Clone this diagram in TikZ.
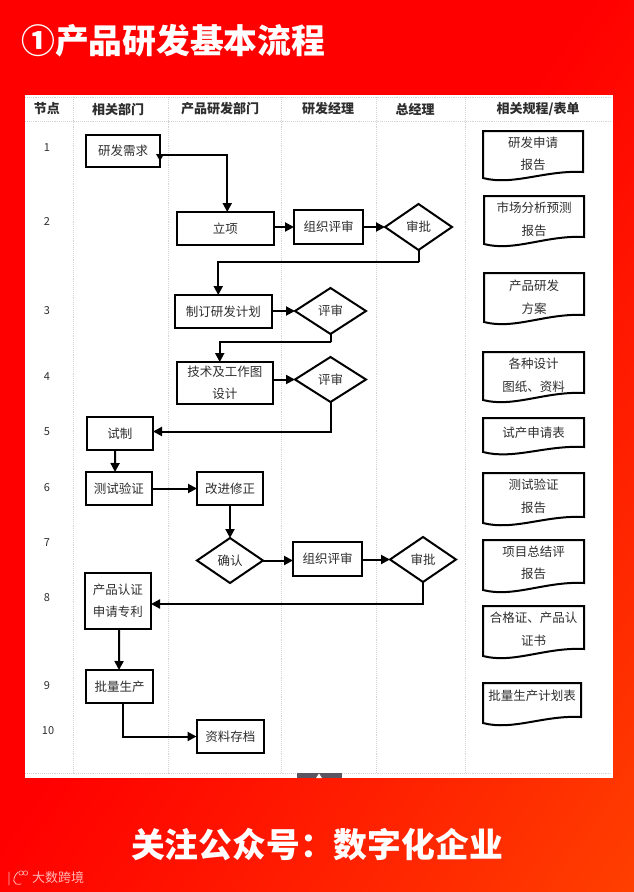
\documentclass[tikz,border=0pt]{standalone}
\usepackage{fontspec}
\setmainfont{Noto Sans CJK SC}
\usetikzlibrary{arrows.meta,calc,shapes.geometric}
\definecolor{inktext}{HTML}{2E2E2E}
\definecolor{gridgray}{HTML}{D6D2D8}
\definecolor{tabgray}{HTML}{5A5560}
\definecolor{bgstart}{HTML}{FF0000}
\definecolor{bgmid}{HTML}{FF2A00}
\definecolor{bgend}{HTML}{FF5500}
\pgfdeclareverticalshading{bggrad}{100bp}{color(0bp)=(bgstart);color(48bp)=(bgstart);color(73bp)=(bgmid);color(97bp)=(bgend);color(100bp)=(bgend)}
\tikzset{
  x=1pt,y=-1pt,
  flowbox/.style={draw=black,line width=2pt,fill=white,rectangle,inner sep=0pt,outer sep=0pt,align=center,text=inktext,font=\fontsize{12.5}{22}\selectfont},
  flowdia/.style={draw=black,line width=2pt,fill=white,diamond,shape aspect=1.45,inner sep=0pt,outer sep=0pt,text=inktext,font=\fontsize{12.5}{15}\selectfont},
  flow/.style={draw=black,line width=2pt,-{Triangle[length=9pt,width=9pt]}},
  gridline/.style={draw=gridgray,line width=0.9pt,densely dotted},
  headtext/.style={font=\fontsize{13}{15}\selectfont\bfseries,text=inktext,inner sep=0pt},
  numtext/.style={font=\fontsize{11}{13}\selectfont,text=inktext,inner sep=0pt},
  doctext/.style={font=\fontsize{12.5}{22.5}\selectfont,text=inktext,align=center,inner sep=0pt},
  bigtext/.style={font=\fontsize{33.8}{36}\selectfont\bfseries,text=white,inner sep=0pt},
}
% name, x1, y1, x2, y2, text
\newcommand{\procnode}[6]{\node[flowbox,minimum width={(#4-#2)*1pt},minimum height={(#5-#3)*1pt}] (#1) at ({(#2+#4)/2},{(#3+#5)/2}) {#6};}
\newcommand{\decnode}[6]{\node[flowdia,minimum width={(#4-#2)*1pt},minimum height={(#5-#3)*1pt}] (#1) at ({(#2+#4)/2},{(#3+#5)/2}) {#6};}
% name, x1, ytop, x2, yright, yleft, ytext, text
\newcommand{\docnode}[8]{%
  \draw[line width=2pt,fill=white] (#2,#6) -- (#2,#3) -- (#4,#3) -- (#4,#5)
     .. controls ({#2+0.62*(#4-#2)},{#5-2}) and ({#2+0.30*(#4-#2)},{#6+8}) .. cycle;
  \node[doctext] (#1) at ({(#2+#4)/2},#7) {#8};}
\begin{document}
\begin{tikzpicture}
\useasboundingbox (0,0) rectangle (634,892);
\shade[shading=bggrad,shading angle=-125] (0,0) rectangle (634,892);
\fill[white] (25,95) rectangle (612.5,778);

% grid
\draw[gridline] (25,97) -- (612,97);
\draw[gridline] (25,121) -- (612,121);
\draw[gridline] (25,773) -- (612,773);
\foreach \gx in {73,168,281,376,465}{\draw[gridline] (\gx,97) -- (\gx,773);}
\fill[tabgray] (297,773) rectangle (342,778);
\fill[white] (319,773.5) -- (322,778) -- (316,778) -- cycle;

% title and footer
\node[bigtext,anchor=west] (title) at (21,41) {①产品研发基本流程};
\node[bigtext] (footer) at (317,845) {关注公众号^^^^ff1a数字化企业};
\node[font=\fontsize{13}{15}\selectfont,text=white,opacity=0.7,inner sep=0pt,anchor=west] (mark) at (32,878) {大数跨境};
\draw[white,opacity=0.7,line width=0.8pt,line cap=round] (9,872) -- (9,885) (18,872) .. controls (12,878) and (12,886) .. (21,884);
\draw[white,opacity=0.7,line width=0.6pt] (21,873) circle (2.2) (25.5,873) circle (2.2);

% headers
\node[headtext] (h1) at (47,109) {节点};
\node[headtext] (h2) at (118,109) {相关部门};
\node[headtext] (h3) at (220,109) {产品研发部门};
\node[headtext] (h4) at (328,109) {研发经理};
\node[headtext] (h5) at (415,109) {总经理};
\node[headtext] (h6) at (538,109) {相关规程/表单};

% row numbers
\node[numtext] (n1) at (47,148) {1};
\node[numtext] (n2) at (47,222) {2};
\node[numtext] (n3) at (47,311) {3};
\node[numtext] (n4) at (47,377) {4};
\node[numtext] (n5) at (47,432) {5};
\node[numtext] (n6) at (47,488) {6};
\node[numtext] (n7) at (47,543) {7};
\node[numtext] (n8) at (47,598) {8};
\node[numtext] (n9) at (47,686) {9};
\node[numtext] (n10) at (48,731) {10};

% process nodes
\procnode{req}{86}{135}{160}{167}{研发需求}
\procnode{lx}{177}{212}{273.5}{245}{立项}
\procnode{org1}{294}{210}{363}{244}{组织评审}
\decnode{sp1}{385}{204}{452}{250}{审批}
\procnode{plan}{174.5}{295}{272}{328}{制订研发计划}
\decnode{rv1}{295}{288}{366}{334}{评审}
\procnode{tech}{176.5}{362}{273}{404}{技术及工作图\\设计}
\decnode{rv2}{295}{357}{366}{402}{评审}
\procnode{try}{86.5}{417}{153}{450}{试制}
\procnode{test}{85.5}{472}{152}{505}{测试验证}
\procnode{imp}{197}{472}{263}{505}{改进修正}
\decnode{ok}{197}{538}{263}{583}{确认}
\procnode{org2}{293}{542}{362}{576}{组织评审}
\decnode{sp2}{390}{537}{456}{582}{审批}
\procnode{cert}{84.5}{573}{151}{629}{产品认证\\申请专利}
\procnode{mass}{86}{670}{153}{703}{批量生产}
\procnode{arch}{196.5}{720}{264}{753}{资料存档}

% document forms
\docnode{f1}{483}{131}{583}{172}{178}{154}{研发申请\\报告}
\docnode{f2}{484}{196}{584}{237}{244}{219.5}{市场分析预测\\报告}
\docnode{f3}{484}{273}{584}{315}{322}{297}{产品研发\\方案}
\docnode{f4}{483}{352}{584}{393}{400}{375}{各种设计\\图纸、资料}
\docnode{f5}{483}{418}{584}{447}{452}{433}{试产申请表}
\docnode{f6}{483}{473}{584}{517}{523}{496.5}{测试验证\\报告}
\docnode{f7}{483}{540}{584}{583}{590}{563}{项目总结评\\报告}
\docnode{f8}{483}{606}{584}{649}{656}{629}{合格证、产品认\\证书}
\docnode{f9}{483}{683}{581}{717}{723}{696}{批量生产计划表}

% connectors
\coordinate (m1) at (419,262);
\coordinate (m2) at (331,342);
\draw[flow] ($(req.east)+(0,4)$) -| ($(lx.north)+(2,0)$);
\fill[black] (156,154) -- (164,154) -- (160,161) -- cycle;
\draw[flow] (lx.east |- org1.west) -- (org1.west);
\draw[flow] (org1.east) -- (sp1.west);
\draw[flow] (sp1.south) |- (m1) -| ($(plan.north)+(-5,0)$);
\draw[flow] (plan.east |- rv1.west) -- (rv1.west);
\draw[flow] (rv1.south) |- (m2) -| ($(tech.north)+(-5,0)$);
\draw[flow] (tech.east |- rv2.west) -- (rv2.west);
\draw[flow] (rv2.south) |- ($(try.east)+(0,-2)$);
\draw[flow] ($(try.south)+(-4.5,0)$) -- ($(test.north)+(-3.75,0)$);
\draw[flow] (test.east) -- (imp.west);
\draw[flow] (imp.south) -- (ok.north);
\draw[flow] (ok.east) -- (org2.west |- ok.east);
\draw[flow] (org2.east |- sp2.west) -- (sp2.west);
\draw[flow] (sp2.south) |- ($(cert.east)+(0,3)$);
\draw[flow] ($(cert.south)+(1.5,0)$) -- ($(mass.north)+(-0.5,0)$);
\draw[flow] ($(mass.south)+(3.5,0)$) |- (arch.west);
\end{tikzpicture}
\end{document}
